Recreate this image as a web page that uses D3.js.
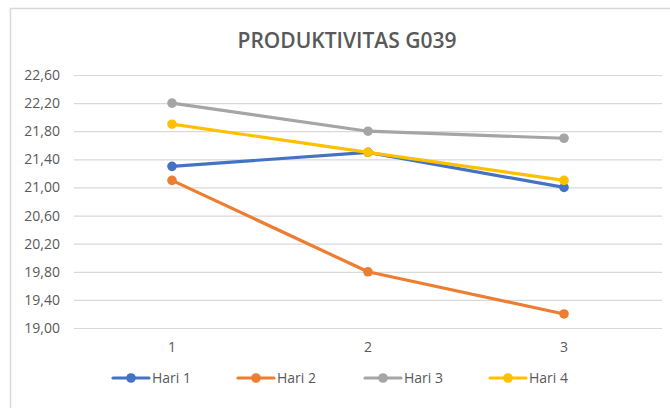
<!DOCTYPE html>
<html><head><meta charset="utf-8">
<script src="https://cdn.jsdelivr.net/npm/d3@7"></script>
<style>body{margin:0;background:#fff}svg{display:block}text{font-family:"Open Sans",sans-serif}</style>
</head><body>
<script>
const categories = ["1","2","3"];
const seriesNames = ["Hari 1","Hari 2","Hari 3","Hari 4"];
const hari1 = [21.3, 21.5, 21.0];
const hari2 = [21.1, 19.8, 19.2];
const hari3 = [22.2, 21.8, 21.7];
const hari4 = [21.9, 21.5, 21.1];
const yTicks = [19.0,19.4,19.8,20.2,20.6,21.0,21.4,21.8,22.2,22.6];
const colors = ["#4472C4","#ED7D31","#A5A5A5","#FFC000"];
const title = "PRODUKTIVITAS G039";

const W=670,H=408;
const svg=d3.select("body").append("svg").attr("width",W).attr("height",H);
svg.append("rect").attr("x",10.5).attr("y",8.5).attr("width",720).attr("height",440)
  .attr("fill","#fff").attr("stroke","#d9d9d9").attr("stroke-width",1.5);

const x=d3.scaleBand().domain(categories).range([74,662]);
const y=d3.scaleLinear().domain([19.0,22.6]).range([328,75]);

svg.append("text").attr("x",347).attr("y",48).attr("text-anchor","middle")
  .attr("font-size",21).attr("font-weight",600).attr("fill","#595959").text(title);

const gy=svg.append("g").attr("transform","translate(74,0)")
  .call(d3.axisLeft(y).tickValues(yTicks).tickSize(-588).tickPadding(14)
    .tickFormat(d=>d3.format(".2f")(d).replace(".",",")));
gy.select(".domain").remove();
gy.selectAll(".tick line").attr("stroke","#d9d9d9").attr("stroke-width",1.2);
gy.selectAll(".tick text").attr("fill","#595959").attr("font-size",14).attr("font-family","Open Sans");

const gx=svg.append("g").attr("transform","translate(0,328)")
  .call(d3.axisBottom(x).tickSize(0).tickPadding(14));
gx.select(".domain").remove();
gx.selectAll(".tick text").attr("fill","#595959").attr("font-size",14).attr("font-family","Open Sans");

const data=[hari1,hari2,hari3,hari4];
const line=d3.line().x((d,i)=>x(categories[i])+x.bandwidth()/2).y(d=>y(d));
data.forEach((s,k)=>{
  svg.append("path").datum(s).attr("d",line).attr("fill","none")
    .attr("stroke",colors[k]).attr("stroke-width",3.2).attr("stroke-linejoin","round");
  svg.selectAll(null).data(s).enter().append("circle")
    .attr("cx",(d,i)=>x(categories[i])+x.bandwidth()/2).attr("cy",d=>y(d))
    .attr("r",4.8).attr("fill",colors[k]);
});

const legX=[113,238,365,490];
const lg=svg.append("g");
seriesNames.forEach((n,k)=>{
  const g=lg.append("g").attr("transform",`translate(${legX[k]},378)`);
  g.append("line").attr("x1",0).attr("x2",36).attr("stroke",colors[k]).attr("stroke-width",3.2).attr("stroke-linecap","round");
  g.append("circle").attr("cx",18).attr("r",4.8).attr("fill",colors[k]);
  g.append("text").attr("x",39).attr("y",5).attr("font-size",14).attr("fill","#595959").text(n);
});
</script>
</body></html>
